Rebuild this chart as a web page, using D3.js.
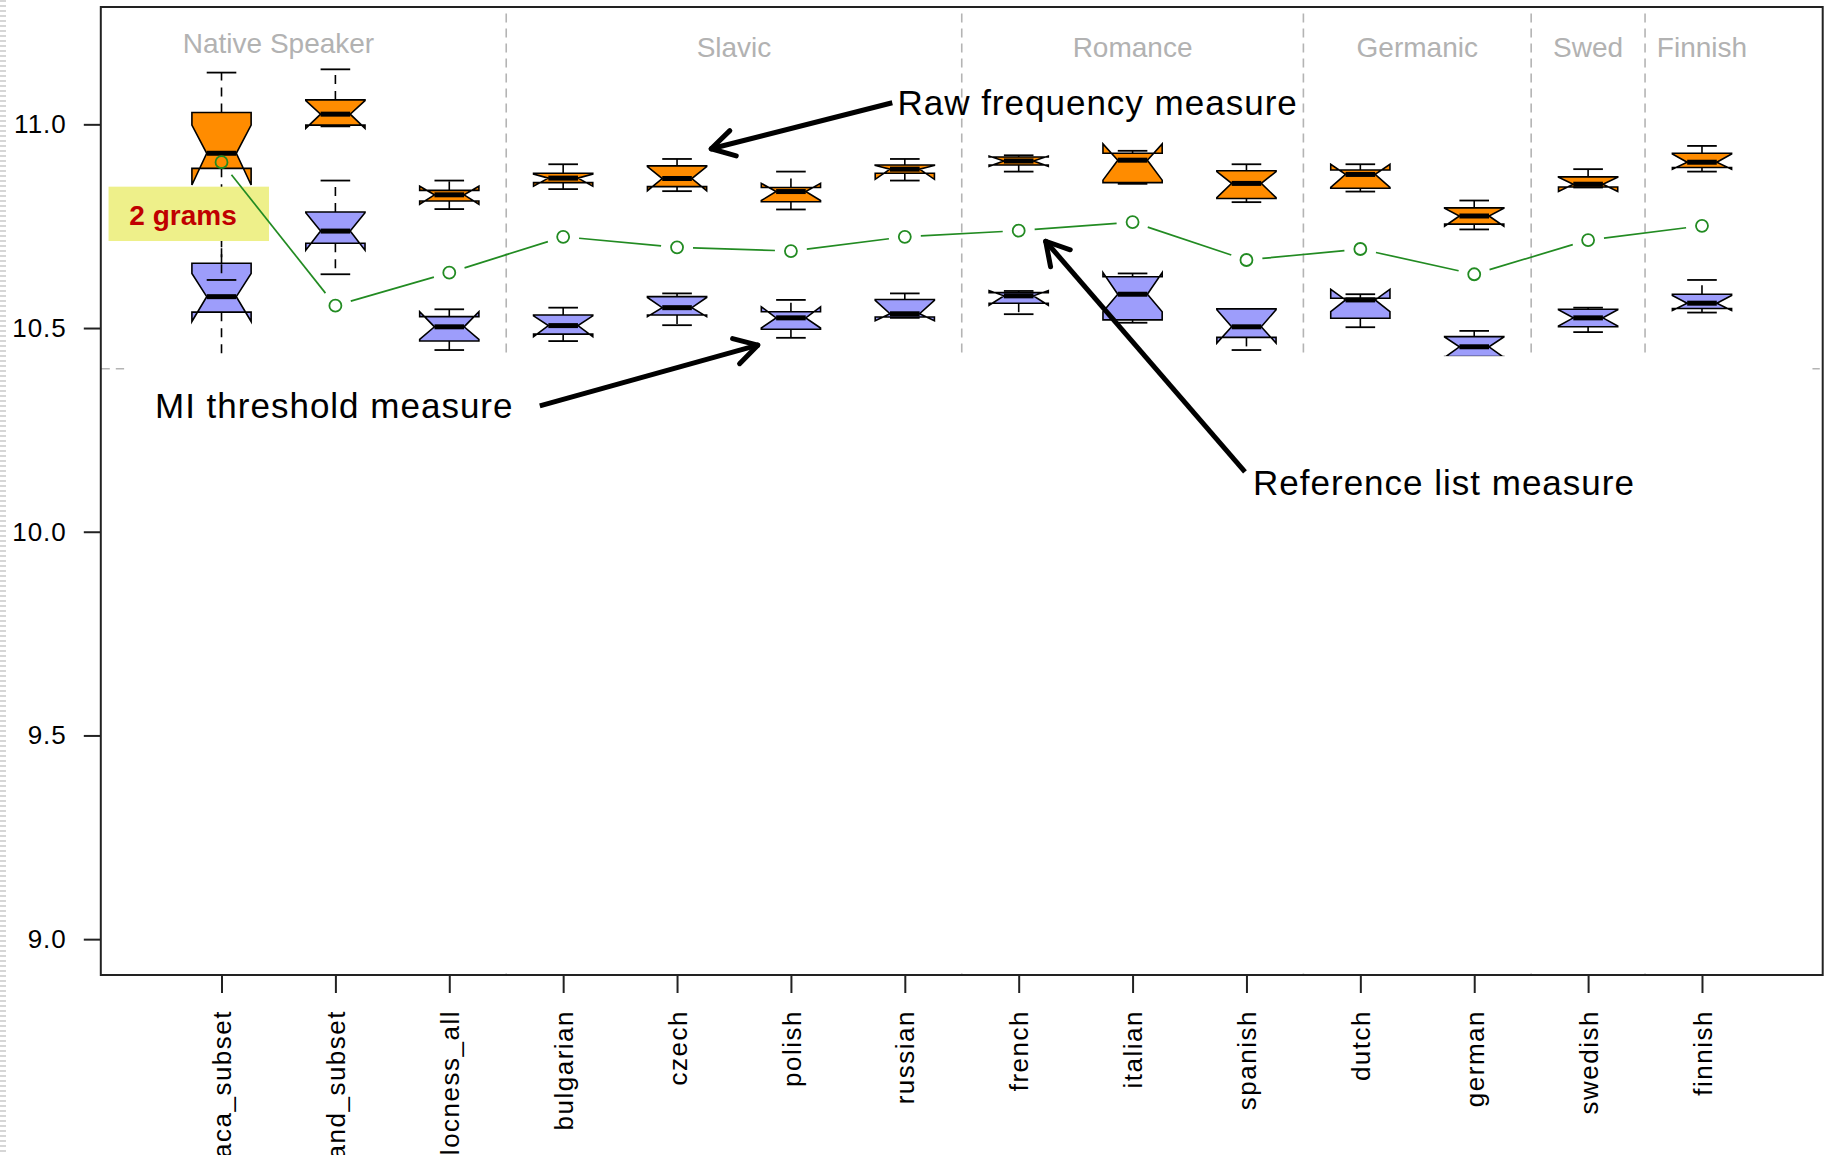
<!DOCTYPE html>
<html>
<head>
<meta charset="utf-8">
<script src="https://cdn.jsdelivr.net/npm/d3@7"></script>
<style>
  html, body { margin: 0; padding: 0; background: #fff; overflow: hidden; }
  svg { display: block; font-family: "Liberation Sans", Arial, sans-serif; }
</style>
</head>
<body>
<div class="chart"></div>
<script>
// categories along the x axis
var categories = ["aca_subset", "and_subset", "locness_all", "bulgarian", "czech", "polish", "russian",
  "french", "italian", "spanish", "dutch", "german", "swedish", "finnish"];

// box stats: [lower whisker, lower hinge, median, upper hinge, upper whisker]
var rawStats = [
  [10.618, 10.892, 10.929, 11.029, 11.127],
  [10.995, 10.998, 11.025, 11.060, 11.135],
  [10.792, 10.812, 10.827, 10.838, 10.862],
  [10.841, 10.857, 10.868, 10.880, 10.902],
  [10.836, 10.847, 10.867, 10.898, 10.915],
  [10.791, 10.810, 10.835, 10.845, 10.884],
  [10.862, 10.880, 10.890, 10.900, 10.915],
  [10.884, 10.900, 10.910, 10.920, 10.924],
  [10.854, 10.857, 10.912, 10.929, 10.935],
  [10.809, 10.818, 10.855, 10.886, 10.902],
  [10.835, 10.843, 10.877, 10.888, 10.902],
  [10.742, 10.755, 10.775, 10.795, 10.813],
  [10.845, 10.846, 10.853, 10.871, 10.890],
  [10.884, 10.894, 10.907, 10.929, 10.947]
];
// notch limits: [lower, upper]
var rawNotch = [
  [10.851, 10.998], [10.990, 11.058], [10.804, 10.848], [10.848, 10.878], [10.837, 10.896],
  [10.813, 10.855], [10.865, 10.899], [10.897, 10.922], [10.863, 10.952], [10.820, 10.884],
  [10.845, 10.902], [10.750, 10.794], [10.835, 10.870], [10.890, 10.927]
];

var miStats = [
  [10.350, 10.539, 10.577, 10.659, 10.750],
  [10.632, 10.708, 10.738, 10.785, 10.862],
  [10.446, 10.468, 10.503, 10.528, 10.546],
  [10.468, 10.485, 10.506, 10.532, 10.550],
  [10.507, 10.532, 10.550, 10.577, 10.585],
  [10.476, 10.497, 10.525, 10.540, 10.569],
  [10.525, 10.527, 10.535, 10.570, 10.585],
  [10.534, 10.561, 10.579, 10.587, 10.591],
  [10.513, 10.520, 10.583, 10.626, 10.634],
  [10.446, 10.477, 10.503, 10.547, 10.547],
  [10.502, 10.524, 10.569, 10.573, 10.583],
  [10.400, 10.430, 10.454, 10.479, 10.493],
  [10.490, 10.503, 10.525, 10.546, 10.550],
  [10.538, 10.548, 10.561, 10.583, 10.618]
];
var miNotch = [
  [10.516, 10.634], [10.691, 10.783], [10.472, 10.540], [10.479, 10.530], [10.528, 10.575],
  [10.500, 10.552], [10.518, 10.568], [10.556, 10.592], [10.540, 10.636], [10.463, 10.545],
  [10.540, 10.595], [10.428, 10.478], [10.505, 10.545], [10.543, 10.580]
];

// reference list measure (green line)
var refValues = [10.907, 10.555, 10.636, 10.724, 10.698, 10.689, 10.724,
  10.739, 10.760, 10.667, 10.694, 10.632, 10.716, 10.751];

var groupNames = ["Native Speaker", "Slavic", "Romance", "Germanic", "Swed", "Finnish"];
var groupPos = [1.5, 5.5, 9, 11.5, 13, 14];
var groupLabelY = [11.175, 11.166, 11.166, 11.166, 11.166, 11.166];
var groupBreaks = [3.5, 7.5, 10.5, 12.5, 13.5];
var yTicks = [9.0, 9.5, 10.0, 10.5, 11.0];
var hLine = 10.4;

var svgWidth = 1828;
var svgHeight = 1155;
var margin = { top: 7, right: 5.3, bottom: 180, left: 100.8 };

var svg = d3.select(".chart").append("svg")
  .attr("width", svgWidth)
  .attr("height", svgHeight);

svg.append("rect").attr("width", svgWidth).attr("height", svgHeight).attr("fill", "#fff");

// ruler-like stripe at the left edge of the picture
svg.append("line")
  .attr("x1", 3).attr("x2", 3).attr("y1", 0).attr("y2", svgHeight)
  .attr("stroke", "#d6d6d6").attr("stroke-width", 6).attr("stroke-dasharray", "2,3");

var x = d3.scaleLinear().domain([-0.06, 15.06]).range([margin.left, svgWidth - margin.right]);
var y = d3.scaleLinear().domain([8.912, 11.288]).range([svgHeight - margin.bottom, margin.top]);
var plotBottom = svgHeight - margin.bottom;

// group separators and the h line (mostly covered later)
svg.selectAll(".sep").data(groupBreaks).enter().append("line")
  .attr("class", "sep")
  .attr("x1", function(d) { return x(d); }).attr("x2", function(d) { return x(d); })
  .attr("y1", y(11.272)).attr("y2", plotBottom)
  .attr("stroke", "#b4b4b4").attr("stroke-width", 1.6).attr("stroke-dasharray", "9,6");

svg.append("line")
  .attr("x1", x.range()[0]).attr("x2", x.range()[1])
  .attr("y1", y(hLine)).attr("y2", y(hLine))
  .attr("stroke", "#b4b4b4").attr("stroke-width", 1.6).attr("stroke-dasharray", "9,6");

// group names
svg.selectAll(".grp").data(groupNames).enter().append("text")
  .attr("class", "grp")
  .attr("x", function(d, i) { return x(groupPos[i]); })
  .attr("y", function(d, i) { return y(groupLabelY[i]); })
  .attr("text-anchor", "middle")
  .attr("font-size", 28)
  .attr("fill", "#b2b2b2")
  .text(function(d) { return d; });

var halfW = x(1.26) - x(1);
var notchFrac = 0.5;

function drawBoxes(stats, notch, fill) {
  var g = svg.append("g");
  stats.forEach(function(s, i) {
    var cx = x(i + 1);
    var lw = s[0], q1 = s[1], med = s[2], q3 = s[3], uw = s[4];
    var lo = notch[i][0], hi = notch[i][1];

    // whiskers
    g.append("line").attr("x1", cx).attr("x2", cx).attr("y1", y(q3)).attr("y2", y(uw))
      .attr("stroke", "#000").attr("stroke-width", 1.6).attr("stroke-dasharray", "9,7");
    g.append("line").attr("x1", cx).attr("x2", cx).attr("y1", y(q1)).attr("y2", y(lw))
      .attr("stroke", "#000").attr("stroke-width", 1.6).attr("stroke-dasharray", "9,7");
    [lw, uw].forEach(function(v) {
      g.append("line").attr("x1", cx - halfW * 0.5).attr("x2", cx + halfW * 0.5)
        .attr("y1", y(v)).attr("y2", y(v))
        .attr("stroke", "#000").attr("stroke-width", 1.8);
    });

    // notched box, same vertex order as R's bxp
    var pts = [
      [cx - halfW, y(q1)], [cx + halfW, y(q1)], [cx + halfW, y(lo)],
      [cx + halfW * notchFrac, y(med)], [cx + halfW, y(hi)], [cx + halfW, y(q3)],
      [cx - halfW, y(q3)], [cx - halfW, y(hi)], [cx - halfW * notchFrac, y(med)],
      [cx - halfW, y(lo)]
    ];
    g.append("polygon")
      .attr("points", pts.map(function(p) { return p.join(","); }).join(" "))
      .attr("fill", fill).attr("stroke", "#000").attr("stroke-width", 1.6);

    g.append("line").attr("x1", cx - halfW * notchFrac).attr("x2", cx + halfW * notchFrac)
      .attr("y1", y(med)).attr("y2", y(med))
      .attr("stroke", "#000").attr("stroke-width", 5);
  });
}

drawBoxes(miStats, miNotch, "#9d9dfb");
drawBoxes(rawStats, rawNotch, "#ff8c00");

// "2 grams" tag
svg.append("rect")
  .attr("x", x(0.008)).attr("y", y(10.847))
  .attr("width", x(1.417) - x(0.008)).attr("height", y(10.7136) - y(10.847))
  .attr("fill", "#eef08a");
svg.append("text")
  .attr("x", x(0.662)).attr("y", y(10.754))
  .attr("text-anchor", "middle")
  .attr("font-size", 28).attr("font-weight", "bold")
  .attr("fill", "#c00000")
  .text("2 grams");

// reference list line, drawn like type = "b"
var refPts = refValues.map(function(v, i) { return [x(i + 1), y(v)]; });
var gap = 16;
for (var i = 0; i < refPts.length - 1; i++) {
  var a = refPts[i], b = refPts[i + 1];
  var dx = b[0] - a[0], dy = b[1] - a[1];
  var len = Math.sqrt(dx * dx + dy * dy);
  svg.append("line")
    .attr("x1", a[0] + dx / len * gap).attr("y1", a[1] + dy / len * gap)
    .attr("x2", b[0] - dx / len * gap).attr("y2", b[1] - dy / len * gap)
    .attr("stroke", "#228b22").attr("stroke-width", 1.7);
}
svg.selectAll(".ref").data(refValues).enter().append("circle")
  .attr("class", "ref")
  .attr("cx", function(d, i) { return x(i + 1); })
  .attr("cy", function(d) { return y(d); })
  .attr("r", 6)
  .attr("fill", "none").attr("stroke", "#228b22").attr("stroke-width", 1.8);

// white patch pasted over the lower part of the plot
svg.append("rect")
  .attr("x", x(0.145)).attr("y", y(10.431))
  .attr("width", x(14.97) - x(0.145)).attr("height", (plotBottom - 7) - y(10.431))
  .attr("fill", "#fff");

// axes
var leftAxis = d3.axisLeft(y).tickValues(yTicks).tickFormat(d3.format(".1f"))
  .tickSize(17).tickPadding(17);
var gy = svg.append("g").attr("transform", "translate(" + x.range()[0] + ",0)").call(leftAxis);
gy.select(".domain").remove();
gy.selectAll("line").attr("stroke", "#222").attr("stroke-width", 2);
gy.selectAll("text").attr("font-size", 26).attr("fill", "#000").attr("letter-spacing", 1)
  .attr("font-family", "\"Liberation Sans\", Arial, sans-serif");

var bottomAxis = d3.axisBottom(x).tickValues(d3.range(1, 15))
  .tickFormat(function(d) { return categories[d - 1]; }).tickSize(18);
var gx = svg.append("g").attr("transform", "translate(0," + plotBottom + ")").call(bottomAxis);
gx.select(".domain").remove();
gx.selectAll("line").attr("stroke", "#222").attr("stroke-width", 2);
gx.selectAll("text")
  .attr("font-size", 26).attr("fill", "#000").attr("letter-spacing", 1.5)
  .attr("font-family", "\"Liberation Sans\", Arial, sans-serif")
  .attr("transform", "rotate(-90)")
  .attr("text-anchor", "end")
  .attr("x", -35).attr("y", 0).attr("dy", "0.35em");

// plot frame
svg.append("rect")
  .attr("x", x.range()[0]).attr("y", y.range()[1])
  .attr("width", x.range()[1] - x.range()[0]).attr("height", plotBottom - y.range()[1])
  .attr("fill", "none").attr("stroke", "#222").attr("stroke-width", 2);

// annotations
var notes = [
  { text: "Raw frequency measure", tx: 6.935, ty: 11.023, from: [6.89, 11.053], to: [5.30, 10.940] },
  { text: "MI threshold measure", tx: 0.416, ty: 10.280, from: [3.795, 10.309], to: [5.709, 10.458] },
  { text: "Reference list measure", tx: 10.058, ty: 10.090, from: [9.987, 10.147], to: [8.237, 10.713] }
];

notes.forEach(function(n) {
  svg.append("text")
    .attr("x", x(n.tx)).attr("y", y(n.ty))
    .attr("font-size", 35).attr("letter-spacing", 1)
    .attr("fill", "#000")
    .text(n.text);

  var x1 = x(n.from[0]), y1 = y(n.from[1]), x2 = x(n.to[0]), y2 = y(n.to[1]);
  svg.append("line").attr("x1", x1).attr("y1", y1).attr("x2", x2).attr("y2", y2)
    .attr("stroke", "#000").attr("stroke-width", 5);
  var ang = Math.atan2(y1 - y2, x1 - x2);
  var headLen = 26, spread = Math.PI / 6;
  [ang - spread, ang + spread].forEach(function(a) {
    svg.append("line")
      .attr("x1", x2).attr("y1", y2)
      .attr("x2", x2 + headLen * Math.cos(a)).attr("y2", y2 + headLen * Math.sin(a))
      .attr("stroke", "#000").attr("stroke-width", 5).attr("stroke-linecap", "round");
  });
});
</script>
</body>
</html>
